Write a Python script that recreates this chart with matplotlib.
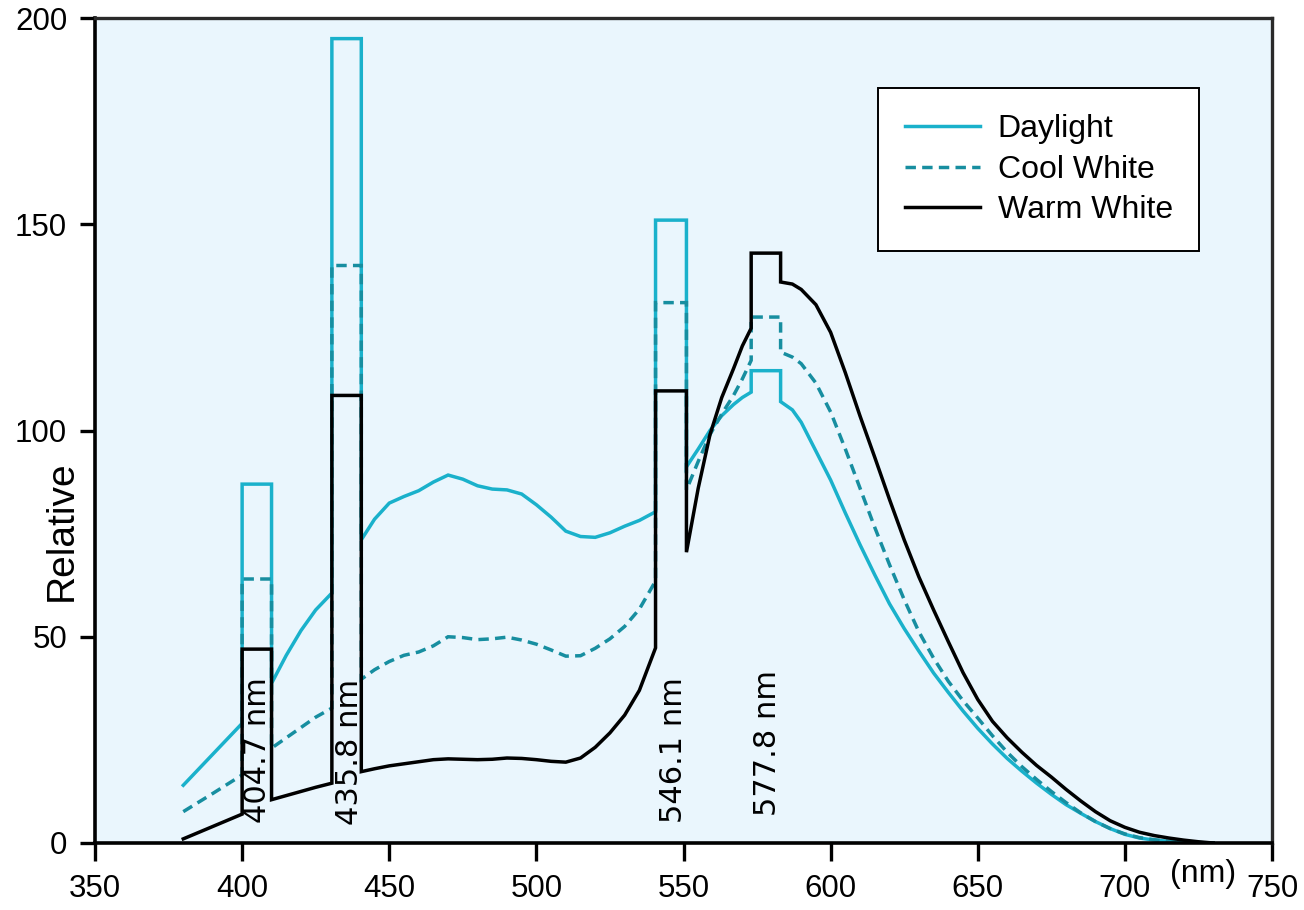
import matplotlib
matplotlib.use("Agg")
import matplotlib.pyplot as plt

plt.rcParams['font.family'] = ['Liberation Sans', 'DejaVu Sans']

# mercury emission lines drawn as 10 nm wide bins
line_nm = [404.7, 435.8, 546.1, 577.8]
line_lo = [400, 430.5, 540.5, 573]
line_hi = [410, 440.5, 551, 583]

daylight_peaks = [87, 195, 151, 114.5]
cool_peaks = [64, 140, 131, 127.5]
warm_peaks = [47, 108.5, 109.6, 143]

# continuum, sampled on a common grid (edges of line bins included)
wl = [380, 390, 400, 410, 415, 420, 425, 430.5, 440.5, 445, 450, 455, 460, 465,
      470, 475, 480, 485, 490, 495, 500, 505, 510, 515, 520, 525, 530, 535,
      540.5, 551, 555, 559, 563, 567, 570, 573, 583, 587, 590, 595, 600, 605,
      610, 615, 620, 625, 630, 635, 640, 645, 650, 655, 660, 665, 670, 675,
      680, 685, 690, 695, 700, 705, 710, 715, 720, 725, 730]

daylight = [14, 21.5, 29, 38.7, 45.5, 51.5, 56.5, 60.6, 73.5, 78.5, 82.4, 84, 85.4,
            87.5, 89.2, 88.2, 86.6, 85.8, 85.6, 84.6, 82, 79, 75.6, 74.3, 74.1,
            75.2, 76.8, 78.2, 80.3, 91.2, 95.5, 100, 103.6, 106.3, 108, 109.3,
            107, 105, 102, 95, 88, 80, 72.3, 65, 58, 52, 46.5, 41.2, 36.5,
            32, 27.8, 24, 20.5, 17.4, 14.5, 11.8, 9.3, 7.2, 5.2, 3.5, 2.1, 1.2, 0.7,
            0.4, 0.2, 0.1, 0]

cool_white = [7.6, 12, 16.5, 23, 25.5, 28, 30.5, 32.7, 39.7, 42, 44, 45.5, 46.3,
              47.8, 50, 49.8, 49.3, 49.5, 49.9, 49.2, 48.2, 46.8, 45.3, 45.4,
              47.2, 49.5, 52.5, 56.7, 63.5, 85.6, 92.5, 99, 104, 108.5, 112.5,
              117, 119, 117.8, 116.2, 111.5, 104.5, 95.5, 86, 76.5, 67.5, 59, 51.2, 44.8,
              39.2, 34.5, 30.3, 26, 22, 18.5, 15.4, 12.5, 9.8, 7.3, 5.2, 3.5, 2.2,
              1.3, 0.8, 0.4, 0.2, 0.1, 0]

warm_white = [1, 4, 7, 10.5, 11.5, 12.5, 13.5, 14.5, 17.3, 18, 18.7, 19.2, 19.7,
              20.2, 20.4, 20.3, 20.2, 20.3, 20.6, 20.5, 20.2, 19.8, 19.6, 20.6,
              23.2, 26.7, 31, 37, 47.3, 70.5, 86, 99, 108, 115, 120.5, 124.8,
              136, 135.5, 134.2, 130.5, 123.8, 114, 103.5, 93.5, 83.3, 73.5, 64.5, 56.5,
              48.8, 41.3, 34.8, 29.5, 25.5, 22, 18.8, 16, 13, 10.2, 7.6, 5.4, 3.8, 2.6,
              1.8, 1.2, 0.7, 0.3, 0]


def with_lines(x, y, peaks):
    # insert the flat-topped line bins into the continuum path
    xs, ys = [], []
    for a, b in zip(x, y):
        xs.append(a)
        ys.append(b)
        for lo, hi, p in zip(line_lo, line_hi, peaks):
            if a == lo:
                xs += [lo, hi]
                ys += [p, p]
    return xs, ys


fig = plt.figure(figsize=(13.04, 9.10), dpi=100)
ax = fig.add_axes([95 / 1304, 67 / 910, 1177 / 1304, 825 / 910])
ax.set_facecolor('#eaf6fd')

lw = 2.5
x, y = with_lines(wl, daylight, daylight_peaks)
ax.plot(x, y, color='#1ab1cb', lw=lw, solid_joinstyle='miter', label='Daylight')
x, y = with_lines(wl, cool_white, cool_peaks)
ax.plot(x, y, color='#178ea0', lw=lw, ls=(0, (3.0, 1.8)), dash_joinstyle='miter',
        label='Cool White')
x, y = with_lines(wl, warm_white, warm_peaks)
ax.plot(x, y, color='black', lw=lw, solid_joinstyle='miter', label='Warm White')

label_y = [4.8, 4.4, 4.8, 6.5]
for nm, ly in zip(line_nm, label_y):
    ax.text(nm + 0.6, ly, '%.1f nm' % nm, rotation=90, ha='center', va='bottom',
            fontsize=22, family='DejaVu Sans')

ax.set_xlim(350, 750)
ax.set_ylim(0, 200)
ax.set_xticks(range(350, 751, 50))
ax.set_yticks(range(0, 201, 50))
ax.tick_params(axis='x', direction='out', length=13, width=2.4, pad=9, labelsize=22.5)
ax.tick_params(axis='y', direction='out', length=11, width=2.4, pad=9, labelsize=22.5)

for side in ['left', 'bottom']:
    ax.spines[side].set_linewidth(2.6)
    ax.spines[side].set_color('black')
for side in ['top', 'right']:
    ax.spines[side].set_linewidth(2.4)
    ax.spines[side].set_color('#2a2a2a')

ax.set_ylabel('Relative', fontsize=28, ha='center', va='center')
ax.yaxis.set_label_coords(-0.028, 0.379)
ax.set_xlabel('(nm)', fontsize=23, ha='center', va='center')
ax.xaxis.set_label_coords(0.9414, -0.037)

leg = ax.legend(loc='upper left', bbox_to_anchor=(0.6653, 0.9152), borderaxespad=0,
                fontsize=23, handlelength=2.35, handletextpad=0.56, labelspacing=0.32,
                borderpad=0.83, fancybox=False, framealpha=1, edgecolor='black')
leg.get_frame().set_linewidth(1.4)

fig.savefig('out.png', dpi=100)
